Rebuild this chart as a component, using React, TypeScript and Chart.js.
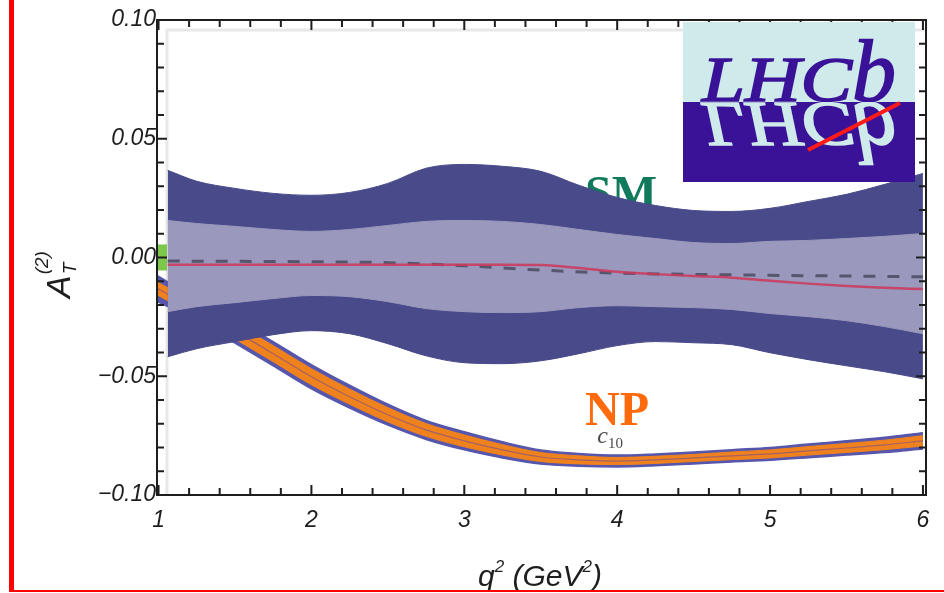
import React, { useEffect, useRef } from "react";
import { Chart, registerables } from "chart.js";

Chart.register(...registerables);

// ---- SM prediction: q² grid, 1σ/2σ bands and central curve ----
const smQ = [1.06, 1.25, 1.5, 1.75, 2.0, 2.25, 2.5, 2.75, 3.0, 3.25, 3.5, 3.75, 4.0, 4.25, 4.5, 4.75, 5.0, 5.25, 5.5, 5.75, 6.0];
const smOuterHi = [0.0367, 0.0321, 0.0291, 0.027, 0.0262, 0.0274, 0.0312, 0.0376, 0.0392, 0.0384, 0.0363, 0.0304, 0.0253, 0.0219, 0.0198, 0.0194, 0.0207, 0.0236, 0.0266, 0.0308, 0.0354];
const smInnerHi = [0.0156, 0.0143, 0.0131, 0.0118, 0.011, 0.0118, 0.0135, 0.0152, 0.0156, 0.0152, 0.0139, 0.0118, 0.0097, 0.008, 0.0063, 0.0059, 0.0068, 0.0072, 0.008, 0.0089, 0.0101];
const smInnerLo = [-0.0228, -0.0207, -0.019, -0.0173, -0.016, -0.0165, -0.0186, -0.0215, -0.0228, -0.0232, -0.0228, -0.0211, -0.0203, -0.0207, -0.0211, -0.0219, -0.0236, -0.0249, -0.0266, -0.0291, -0.0321];
const smOuterLo = [-0.0418, -0.0384, -0.0354, -0.0325, -0.0308, -0.0321, -0.0363, -0.0414, -0.0443, -0.0447, -0.0435, -0.0405, -0.0371, -0.0354, -0.0359, -0.0367, -0.0401, -0.043, -0.0456, -0.0481, -0.0511];
const smCentral = [-0.003, -0.003, -0.003, -0.003, -0.003, -0.003, -0.003, -0.003, -0.003, -0.003, -0.0032, -0.0044, -0.006, -0.007, -0.0078, -0.0085, -0.0098, -0.011, -0.012, -0.0127, -0.0133];

// dashed reference curve
const dashQ = [1.06, 2.0, 2.5, 3.0, 3.5, 4.0, 4.5, 5.0, 5.5, 6.0];
const dashVals = [-0.0015, -0.0018, -0.0022, -0.0035, -0.0053, -0.0066, -0.0071, -0.0075, -0.0078, -0.0081];

// ---- NP (C10) scenario band ----
const npQ = [0.99, 1.25, 1.5, 1.75, 2.0, 2.25, 2.5, 2.75, 3.0, 3.25, 3.5, 3.75, 4.0, 4.25, 4.5, 4.75, 5.0, 5.25, 5.5, 5.75, 6.0];
const npMid = [-0.013, -0.022, -0.031, -0.0405, -0.0502, -0.0586, -0.0662, -0.0726, -0.0772, -0.081, -0.084, -0.0852, -0.0857, -0.0852, -0.0844, -0.0835, -0.0827, -0.0814, -0.0802, -0.0789, -0.0772];
const npOuterHi = [-0.0075, -0.0175, -0.026, -0.0354, -0.0451, -0.0538, -0.0618, -0.0686, -0.0734, -0.0776, -0.081, -0.0825, -0.0832, -0.0827, -0.0819, -0.0809, -0.08, -0.0785, -0.0772, -0.0757, -0.0738];
const npOuterLo = [-0.0185, -0.0265, -0.036, -0.0456, -0.0553, -0.0634, -0.0706, -0.0766, -0.081, -0.0844, -0.087, -0.0879, -0.0882, -0.0877, -0.0869, -0.0861, -0.0854, -0.0843, -0.0832, -0.0821, -0.0806];
const npInnerHi = [-0.0103, -0.019, -0.0277, -0.0371, -0.0468, -0.0554, -0.0632, -0.0699, -0.0747, -0.0788, -0.0821, -0.0835, -0.0842, -0.0837, -0.0829, -0.0819, -0.081, -0.0796, -0.0783, -0.0769, -0.075];
const npInnerLo = [-0.0157, -0.025, -0.0343, -0.0439, -0.0536, -0.0618, -0.0692, -0.0753, -0.0797, -0.0832, -0.0859, -0.0869, -0.0872, -0.0867, -0.0859, -0.0851, -0.0844, -0.0832, -0.0821, -0.0809, -0.0794];

// ---- axes ----
const xTicks = [1, 2, 3, 4, 5, 6];
const xTickLabels = ["1", "2", "3", "4", "5", "6"];
const yTicks = [-0.1, -0.05, 0, 0.05, 0.1];
const yTickLabels = ["\u22120.10", "\u22120.05", "0.00", "0.05", "0.10"];

const pts = (xs: number[], ys: number[]) => xs.map((x, i) => ({ x, y: ys[i] }));

const DARK = "#484a8a";
const LIGHT = "#9a98bc";
const NP_BLUE = "#5656ac";
const NP_ORANGE = "#f0821e";
const LOGO_PURPLE = "#3a1298";
const LOGO_CYAN = "#cfeaea";

const tickFont = { family: "'Liberation Sans', Arial, sans-serif", size: 23, style: "italic" as const };

function drawRuns(ctx: CanvasRenderingContext2D, x: number, y: number, runs: { t: string; font: string; dy: number }[]) {
  for (const r of runs) {
    ctx.font = r.font;
    ctx.fillText(r.t, x, y + r.dy);
    x += ctx.measureText(r.t).width;
  }
}

const decor = {
  id: "decor",
  beforeDatasetsDraw(chart: any) {
    const { ctx, chartArea: a, scales } = chart;
    const xs = scales.x;
    const ys = scales.y;
    ctx.save();
    // pale inner plot-range frame
    ctx.strokeStyle = "#e8e8e8";
    ctx.lineWidth = 3;
    ctx.beginPath();
    ctx.moveTo(a.left + 10, a.bottom);
    ctx.lineTo(a.left + 10, a.top + 10);
    ctx.lineTo(a.right, a.top + 10);
    ctx.stroke();
    // SM label, partly covered by the band
    ctx.fillStyle = "#117a5c";
    ctx.font = "bold 48px 'Liberation Serif', 'Times New Roman', serif";
    ctx.textBaseline = "alphabetic";
    ctx.fillText("SM", xs.getPixelForValue(3.79), ys.getPixelForValue(0.0205));
    ctx.restore();
  },
  afterDatasetsDraw(chart: any) {
    const { ctx, chartArea: a, scales } = chart;
    const xs = scales.x;
    const ys = scales.y;
    ctx.save();

    // green marker on the left axis
    ctx.fillStyle = "#7cc84a";
    ctx.fillRect(a.left + 1, ys.getPixelForValue(0.0055), 9, 26);

    // frame with inward ticks
    ctx.strokeStyle = "#1e1e1e";
    ctx.lineWidth = 2;
    ctx.strokeRect(a.left, a.top, a.right - a.left, a.bottom - a.top);
    ctx.beginPath();
    for (let i = 0; i <= 25; i++) {
      const px = xs.getPixelForValue(1 + i * 0.2);
      const len = i % 5 === 0 ? 10 : 7;
      ctx.moveTo(px, a.bottom);
      ctx.lineTo(px, a.bottom - len);
      ctx.moveTo(px, a.top);
      ctx.lineTo(px, a.top + len);
    }
    for (let i = 0; i <= 20; i++) {
      const py = ys.getPixelForValue(-0.1 + i * 0.01);
      const len = i % 5 === 0 ? 10 : 7;
      ctx.moveTo(a.left, py);
      ctx.lineTo(a.left + len, py);
      ctx.moveTo(a.right, py);
      ctx.lineTo(a.right - len, py);
    }
    ctx.stroke();

    // NP label with C10 tag
    ctx.fillStyle = "#ff6a0c";
    ctx.font = "bold 48px 'Liberation Serif', 'Times New Roman', serif";
    ctx.fillText("NP", xs.getPixelForValue(3.79), ys.getPixelForValue(-0.0705));
    ctx.fillStyle = "#4a4a4a";
    drawRuns(ctx, xs.getPixelForValue(3.87), ys.getPixelForValue(-0.0783), [
      { t: "c", font: "italic 24px 'Liberation Serif', serif", dy: 0 },
      { t: "10", font: "15px 'Liberation Serif', serif", dy: 5 },
    ]);

    // LHCb logo
    const L = 683, T = 22, R = 915, B = 182, M = 102;
    ctx.fillStyle = LOGO_CYAN;
    ctx.fillRect(L, T, R - L, M - T);
    ctx.fillStyle = LOGO_PURPLE;
    ctx.fillRect(L, M, R - L, B - M);
    const drawWord = (color: string, flip: boolean) => {
      ctx.save();
      ctx.beginPath();
      if (flip) ctx.rect(L, M, R - L, B - M);
      else ctx.rect(L, T, R - L, M - T);
      ctx.clip();
      ctx.translate(0, flip ? M + 1 : M - 1);
      ctx.scale(1, flip ? -1 : 1);
      ctx.fillStyle = color;
      ctx.strokeStyle = color;
      ctx.lineWidth = 1.6;
      ctx.font = "italic 64px 'Liberation Serif', 'Times New Roman', serif";
      const w = ctx.measureText("LHC").width;
      ctx.save();
      ctx.translate(702, 0);
      ctx.scale(150 / w, 1);
      ctx.fillText("LHC", 0, 0);
      ctx.strokeText("LHC", 0, 0);
      ctx.restore();
      ctx.font = "italic 88px 'Liberation Serif', 'Times New Roman', serif";
      ctx.fillText("b", 852, 0);
      ctx.strokeText("b", 852, 0);
      ctx.restore();
    };
    drawWord(LOGO_PURPLE, false);
    drawWord(LOGO_CYAN, true);
    ctx.strokeStyle = "#ff1a1a";
    ctx.lineWidth = 4;
    ctx.beginPath();
    ctx.moveTo(808, 150);
    ctx.lineTo(900, 103);
    ctx.stroke();

    // x-axis title
    ctx.fillStyle = "#1e1e1e";
    drawRuns(ctx, 478, 586, [
      { t: "q", font: "italic 30px 'Liberation Sans', Arial, sans-serif", dy: 0 },
      { t: "2", font: "italic 17px 'Liberation Sans', Arial, sans-serif", dy: -14 },
      { t: " (GeV", font: "italic 30px 'Liberation Sans', Arial, sans-serif", dy: 0 },
      { t: "2", font: "italic 17px 'Liberation Sans', Arial, sans-serif", dy: -14 },
      { t: ")", font: "italic 30px 'Liberation Sans', Arial, sans-serif", dy: 0 },
    ]);

    // y-axis title, rotated
    ctx.save();
    ctx.translate(70, 298);
    ctx.rotate(-Math.PI / 2);
    ctx.font = "italic 34px 'Liberation Sans', Arial, sans-serif";
    ctx.fillText("A", 0, 0);
    const aw = ctx.measureText("A").width;
    ctx.font = "italic 19px 'Liberation Sans', Arial, sans-serif";
    ctx.fillText("(2)", aw + 1, -22);
    ctx.fillText("T", aw + 1, 6);
    ctx.restore();

    // red page border
    ctx.fillStyle = "#ff0000";
    ctx.fillRect(9, 0, 5, 592);
    ctx.fillRect(9, 590, 935, 2);

    ctx.restore();
  },
};

export default function App() {
  const ref = useRef<HTMLCanvasElement>(null);

  useEffect(() => {
    document.body.style.margin = "0";
    const canvas = ref.current;
    if (!canvas) return;
    const band = (data: any, color: string, fill: any, order: number, width = 1) => ({
      data,
      borderColor: color,
      backgroundColor: color,
      borderWidth: width,
      pointRadius: 0,
      fill,
      order,
      cubicInterpolationMode: "monotone" as const,
    });
    const chart = new Chart(canvas, {
      type: "line",
      data: {
        datasets: [
          band(pts(npQ, npOuterHi), NP_BLUE, 1, 20, 1.5),
          band(pts(npQ, npOuterLo), NP_BLUE, false, 20, 1.5),
          band(pts(npQ, npInnerHi), NP_ORANGE, 3, 19),
          band(pts(npQ, npInnerLo), NP_ORANGE, false, 19),
          {
            data: pts(npQ, npMid),
            borderColor: "rgba(125,80,140,0.65)",
            borderWidth: 1.2,
            pointRadius: 0,
            fill: false,
            order: 18,
            cubicInterpolationMode: "monotone",
          },
          band(pts(smQ, smOuterHi), DARK, 6, 16),
          band(pts(smQ, smOuterLo), DARK, false, 16),
          band(pts(smQ, smInnerHi), LIGHT, 8, 14),
          band(pts(smQ, smInnerLo), LIGHT, false, 14),
          {
            data: pts(dashQ, dashVals),
            borderColor: "#56566e",
            borderWidth: 3,
            borderDash: [12, 12],
            pointRadius: 0,
            fill: false,
            order: 12,
            cubicInterpolationMode: "monotone",
          },
          {
            data: pts(smQ, smCentral),
            borderColor: "rgba(205,55,90,0.85)",
            borderWidth: 2.5,
            pointRadius: 0,
            fill: false,
            order: 10,
            cubicInterpolationMode: "monotone",
          },
        ],
      },
      options: {
        responsive: false,
        animation: false,
        devicePixelRatio: 1,
        layout: { padding: { top: 20, right: 18, left: 0, bottom: 0 } },
        plugins: { legend: { display: false }, tooltip: { enabled: false } },
        scales: {
          x: {
            type: "linear",
            min: 0.99,
            max: 6.02,
            grid: { display: false, drawTicks: false },
            border: { display: false },
            ticks: {
              font: tickFont,
              color: "#1e1e1e",
              padding: 12,
              maxRotation: 0,
              callback: (_v: any, i: number) => xTickLabels[i],
            },
            afterBuildTicks: (s: any) => {
              s.ticks = xTicks.map((v) => ({ value: v }));
            },
            afterFit: (s: any) => {
              s.height = 98;
            },
          },
          y: {
            type: "linear",
            min: -0.1,
            max: 0.1,
            grid: { display: false, drawTicks: false },
            border: { display: false },
            ticks: {
              font: tickFont,
              color: "#1e1e1e",
              padding: 1,
              callback: (_v: any, i: number) => yTickLabels[i],
            },
            afterBuildTicks: (s: any) => {
              s.ticks = yTicks.map((v) => ({ value: v }));
            },
            afterFit: (s: any) => {
              s.width = 157;
            },
          },
        },
      },
      plugins: [decor],
    });
    return () => chart.destroy();
  }, []);

  return (
    <div style={{ width: 944, height: 593, background: "#fff" }}>
      <canvas ref={ref} width={944} height={593} style={{ display: "block" }} />
    </div>
  );
}
